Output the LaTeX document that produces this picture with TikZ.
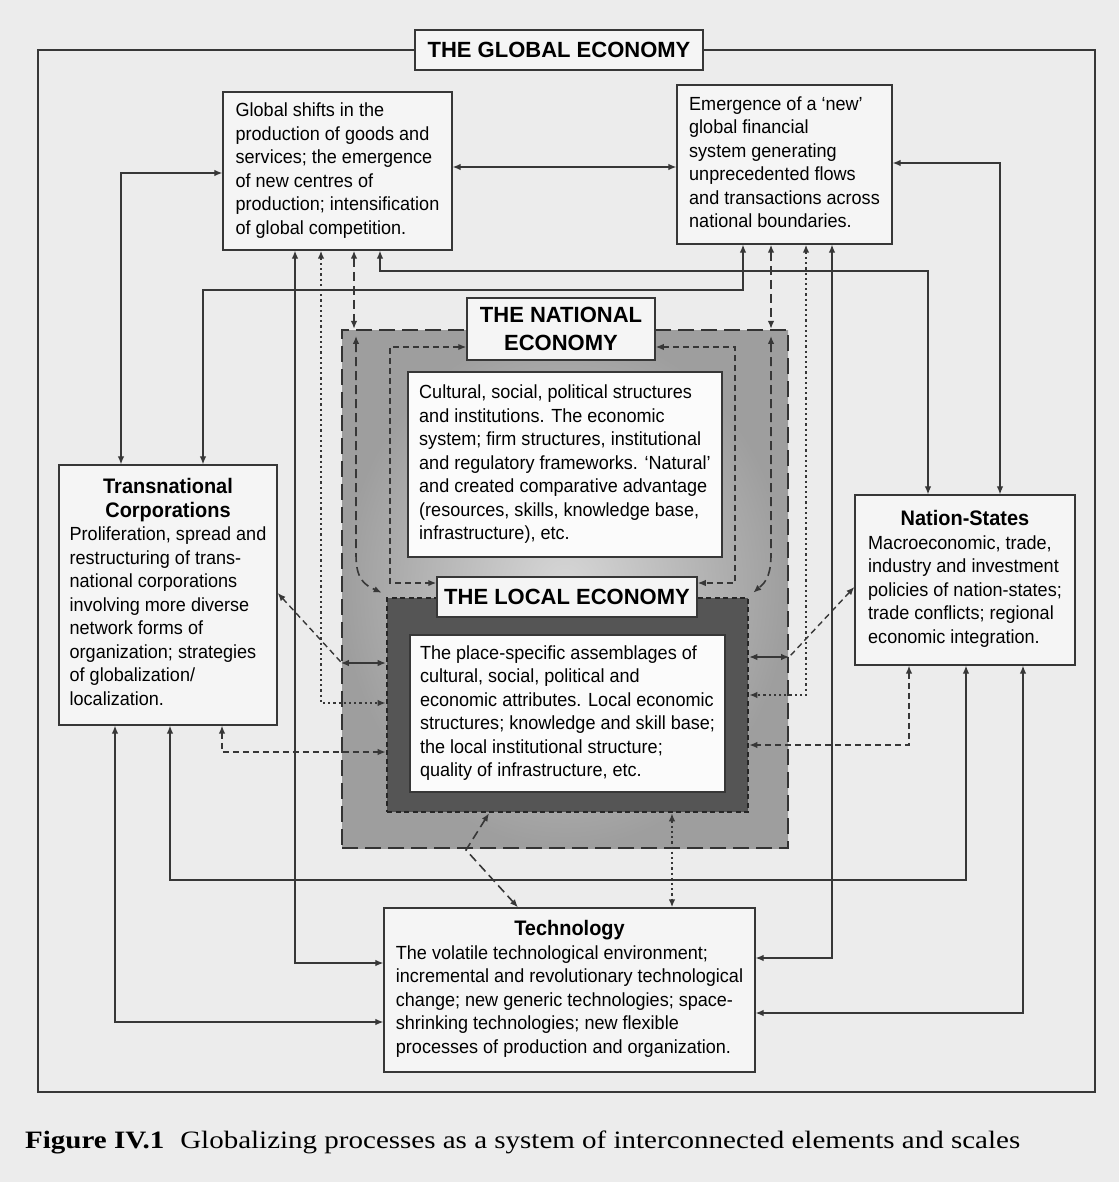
\documentclass[tikz,border=0pt]{standalone}
\usepackage{fontspec}
\setmainfont{Liberation Serif}
\newfontfamily\sansn[FakeStretch=0.95]{Liberation Sans}
\newfontfamily\sansw{Liberation Sans}
\newfontfamily\capfont[FakeStretch=1.16]{Liberation Serif}
\usetikzlibrary{arrows.meta,calc}
\definecolor{bgc}{RGB}{236,236,236}
\definecolor{boxc}{RGB}{245,245,245}
\definecolor{linec}{RGB}{55,55,55}
\definecolor{natdark}{RGB}{158,158,158}
\definecolor{natlight}{RGB}{215,215,215}
\definecolor{locdark}{RGB}{85,85,85}
\newcommand\mybody{\sansn\fontsize{19}{23.5}\selectfont}
\newcommand\mytitle{\sansn\bfseries\fontsize{21}{25}\selectfont}
\newcommand\myscale{\sansw\bfseries\fontsize{22}{28}\selectfont}
\begin{document}
\begin{tikzpicture}[x=1pt,y=-1pt,
  >={Latex[length=8pt,width=6.5pt]},
  txtbox/.style={draw=linec, fill=boxc, line width=1.3pt, inner sep=0pt, align=center, font=\mybody},
  scalelab/.style={draw=linec, fill=boxc, line width=1.5pt, inner sep=0pt, align=center, font=\myscale},
  natregion/.style={draw=black!80, line width=2.2pt, dash pattern=on 16pt off 7pt, inner sep=0pt,
     inner color=natlight, outer color=natdark},
  locregion/.style={draw=black!85, fill=locdark, line width=2.6pt, dash pattern=on 5pt off 3.5pt, inner sep=0pt},
  conn/.style={draw=linec, line width=1.2pt, <->},
  dotc/.style={conn, line width=1.8pt, dash pattern=on 2.2pt off 3pt},
  dashc/.style={conn, line width=1.4pt, dash pattern=on 6pt off 4pt},
  ldashc/.style={conn, line width=1.6pt, dash pattern=on 9pt off 5pt}
]
\fill[bgc] (0,0) rectangle (1119,1182);
\useasboundingbox (0,0) rectangle (1119,1182);

% outer frame
\draw[linec, line width=1.6pt] (38,50) rectangle (1095,1092);
\node[scalelab, minimum width=288, minimum height=40] (globlab) at (559,50) {THE GLOBAL ECONOMY};

% national and local regions
\node[natregion, minimum width=446, minimum height=518] (natreg) at (565,589) {};
\node[locregion, minimum width=361, minimum height=214] (locreg) at (567.5,705) {};

% boxes
\node[txtbox, minimum width=229, minimum height=158] (glob) at (337.5,171) {\begin{tabular}{@{}l@{}}
Global shifts in the\\
production of goods and\\
services; the emergence\\
of new centres of\\
production; intensification\\
of global competition.
\end{tabular}};

\node[txtbox, minimum width=215, minimum height=159] (fin) at (784.5,164.5) {\begin{tabular}{@{}l@{}}
Emergence of a ‘new’\\
global financial\\
system generating\\
unprecedented flows\\
and transactions across\\
national boundaries.
\end{tabular}};

\node[txtbox, minimum width=218, minimum height=260] (tnc) at (168,595) {\begin{tabular}{@{}l@{}}
\multicolumn{1}{@{}c@{}}{\mytitle Transnational}\\
\multicolumn{1}{@{}c@{}}{\mytitle Corporations}\\
Proliferation, spread and\\
restructuring of trans-\\
national corporations\\
involving more diverse\\
network forms of\\
organization; strategies\\
of globalization/\\
localization.
\end{tabular}};

\node[txtbox, minimum width=220, minimum height=170] (ns) at (965,580) {\begin{tabular}{@{}l@{}}
\multicolumn{1}{@{}c@{}}{\mytitle Nation-States}\\
Macroeconomic, trade,\\
industry and investment\\
policies of nation-states;\\
trade conflicts; regional\\
economic integration.
\end{tabular}};

\node[txtbox, minimum width=371, minimum height=164] (tech) at (569.5,990) {\begin{tabular}{@{}l@{}}
\multicolumn{1}{@{}c@{}}{\mytitle Technology}\\
The volatile technological environment;\\
incremental and revolutionary technological\\
change; new generic technologies; space-\\
shrinking technologies; new flexible\\
processes of production and organization.
\end{tabular}};

\node[txtbox, fill=white!97!gray, minimum width=314, minimum height=185] (natbox) at (565,464.5) {\begin{tabular}{@{}l@{}}
Cultural, social, political structures\\
and institutions. The economic\\
system; firm structures, institutional\\
and regulatory frameworks. ‘Natural’\\
and created comparative advantage\\
(resources, skills, knowledge base,\\
infrastructure), etc.
\end{tabular}};

\node[txtbox, fill=white!97!gray, minimum width=315, minimum height=157] (locbox) at (567.5,713.5) {\begin{tabular}{@{}l@{}}
The place-specific assemblages of\\
cultural, social, political and\\
economic attributes. Local economic\\
structures; knowledge and skill base;\\
the local institutional structure;\\
quality of infrastructure, etc.
\end{tabular}};

\node[scalelab, minimum width=188, minimum height=62] (natlab) at (561,329) {THE NATIONAL\\ECONOMY};
\node[scalelab, minimum width=260, minimum height=40] (loclab) at (567,597) {THE LOCAL ECONOMY};

% solid connectors
\draw[conn] (glob.east |- 0,167) -- (fin.west |- 0,167);
\draw[conn] (tnc.north -| 121,0) |- (glob.west |- 0,173);
\draw[conn] (tnc.north -| 203,0) -- (203,290) -| (fin.south -| 743,0);
\draw[conn] (glob.south -| 380,0) -- (380,271) -| (ns.north -| 928,0);
\draw[conn] (fin.east |- 0,163) -| (ns.north -| 1000,0);
\draw[conn] (glob.south -| 295,0) |- (tech.west |- 0,963);
\draw[conn] (fin.south -| 832,0) |- (tech.east |- 0,958);
\draw[conn] (tnc.south -| 170,0) -- (170,880) -| (ns.south -| 966,0);
\draw[conn] (tnc.south -| 115,0) |- (tech.west |- 0,1022);
\draw[conn] (ns.south -| 1023,0) |- (tech.east |- 0,1013);

% dotted connectors
\draw[dotc] (glob.south -| 321,0) |- (locreg.west |- 0,703);
\draw[dotc] (fin.south -| 806,0) |- (locreg.east |- 0,695);
\draw[dotc] (locreg.south -| 672,0) -- (tech.north -| 672,0);

% dashed connectors
\draw[dashc] (tnc.south -| 222,0) |- (locreg.west |- 0,752);
\draw[dashc] (ns.south -| 909,0) |- (locreg.east |- 0,745);
\draw[dashc] (natlab.west |- 0,347) -| (390,583) -- (loclab.west |- 0,583);
\draw[dashc] (natlab.east |- 0,347) -| (735,583) -- (loclab.east |- 0,583);
\draw[dashc,<-] (tnc.east |- 0,593) -- (natreg.west |- 0,662);
\draw[conn] (natreg.west |- 0,663) -- (locreg.west |- 0,663);
\draw[dashc,<-] (ns.west |- 0,587) -- (natreg.east |- 0,657);
\draw[conn] (natreg.east |- 0,657) -- (locreg.east |- 0,657);

% long-dashed connectors (national scale)
\draw[ldashc] (glob.south -| 354,0) -- (natreg.north -| 354,0);
\draw[ldashc] (fin.south -| 771,0) -- (natreg.north -| 771,0);
\draw[ldashc] ($(natreg.north -| 356,0)+(0,7)$) -- (356,555) .. controls (356,580) and (365,585) .. ($(locreg.north west)+(-4,-4)$);
\draw[ldashc] ($(natreg.north -| 771,0)+(0,7)$) -- (771,555) .. controls (771,580) and (762,585) .. ($(locreg.north east)+(4,-4)$);
\draw[ldashc] (locreg.south -| 489,0) -- (466,850) -- (tech.north -| 518,0);

% caption
\node[anchor=base west, inner sep=0pt, font=\capfont\fontsize{25}{30}\selectfont] (cap) at (25,1148)
  {\textbf{Figure IV.1}\hspace{16pt}Globalizing processes as a system of interconnected elements and scales};
\end{tikzpicture}
\end{document}
